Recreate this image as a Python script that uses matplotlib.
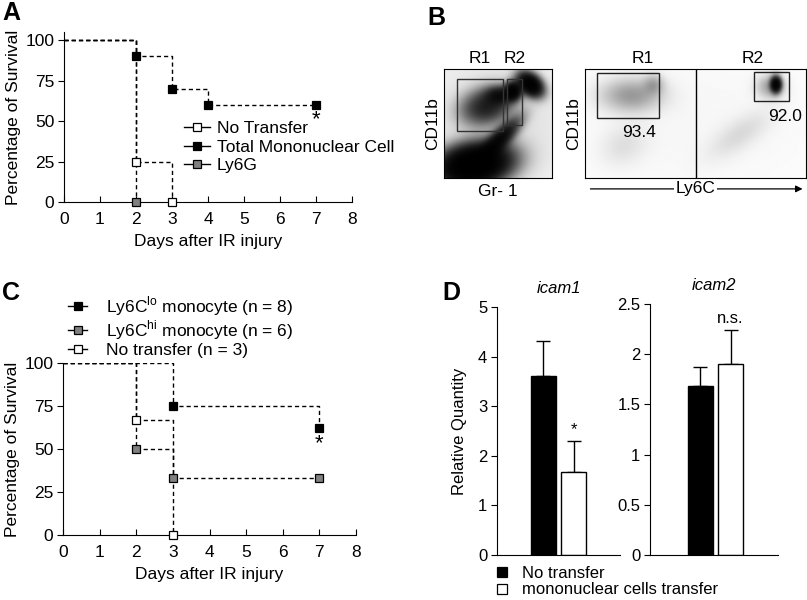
import numpy as np
import matplotlib
matplotlib.use('Agg')
import matplotlib.pyplot as plt
from matplotlib.lines import Line2D
from matplotlib.patches import Rectangle

plt.rcParams['font.family'] = ['Liberation Sans', 'DejaVu Sans']
plt.rcParams['mathtext.fontset'] = 'custom'
plt.rcParams['mathtext.rm'] = 'Liberation Sans'

# ==========================================
# data
# ==========================================
# A: survival after transfer
a_names = ['No Transfer', 'Total Mononuclear Cell', 'Ly6G']
a_days = [[0, 2, 3], [0, 2, 3, 4, 7], [0, 2]]
a_surv = [[100, 25, 0], [100, 90, 70, 60, 60], [100, 0]]
a_face = ['white', 'black', '#808080']

# C: survival, monocyte subsets
c_names = ['Ly6C$^{\\mathrm{lo}}$ monocyte (n = 8)', 'Ly6C$^{\\mathrm{hi}}$ monocyte (n = 6)',
           'No transfer (n = 3)']
c_days = [[0, 3, 7], [0, 2, 3, 7], [0, 2, 3]]
c_surv = [[100, 75, 62.5], [100, 50, 33.3, 33.3], [100, 66.7, 0]]
c_face = ['black', '#808080', 'white']

# D: relative quantity
d_genes = ['icam1', 'icam2']
d_groups = ['No transfer', 'mononuclear cells transfer']
d_mean = [[3.6, 1.68], [1.68, 1.90]]
d_err = [[0.72, 0.62], [0.19, 0.34]]
d_sig = ['*', 'n.s.']
d_ymax = [5, 2.5]
d_ticks = [[0, 1, 2, 3, 4, 5], [0, 0.5, 1, 1.5, 2, 2.5]]
d_ticklabels = [['0', '1', '2', '3', '4', '5'], ['0', '0.5', '1', '1.5', '2', '2.5']]

# B: flow populations (gaussian blobs: x, y, sx, sy, angle, weight)
b1_x = [0.28, 0.52, 0.40, 0.52, 0.64, 0.80, 0.5]
b1_y = [0.12, 0.36, 0.66, 0.76, 0.80, 0.86, 0.5]
b1_sx = [0.20, 0.15, 0.15, 0.08, 0.045, 0.055, 0.6]
b1_sy = [0.11, 0.05, 0.10, 0.05, 0.05, 0.08, 0.6]
b1_ang = [10, 45, 15, 0, 0, 50, 0]
b1_w = [3.0, 1.3, 0.9, 0.9, 1.8, 2.2, 0.06]
b1_gates = [(0.12, 0.43, 0.43, 0.48), (0.585, 0.49, 0.14, 0.42)]
b1_labels = ['R1', 'R2']

b2_x = [0.42, 0.62, 0.35, 1.73, 1.68, 1.40, 1.0]
b2_y = [0.76, 0.86, 0.30, 0.86, 0.84, 0.40, 0.5]
b2_sx = [0.18, 0.06, 0.15, 0.03, 0.08, 0.22, 1.0]
b2_sy = [0.10, 0.06, 0.12, 0.045, 0.07, 0.09, 0.6]
b2_ang = [0, 0, 30, 0, 0, 35, 0]
b2_w = [0.22, 0.15, 0.05, 1.8, 0.2, 0.06, 0.015]
b2_gates = [(0.11, 0.55, 0.56, 0.41), (1.53, 0.706, 0.316, 0.266)]
b2_labels = ['R1', 'R2']
b2_pct = ['93.4', '92.0']

W, H = 807, 600
fig = plt.figure(figsize=(W / 100, H / 100), dpi=100)


def box(l, t, r, b):
    return [l / W, 1 - b / H, (r - l) / W, (b - t) / H]


dash = (0, (3, 2.2))


def survival(ax, days, surv, face, ymax):
    for d, s in zip(days, surv):
        ax.step(d, s, where='post', color='black', lw=1, linestyle=dash, zorder=2)
    for d, s, f in zip(days, surv, face):
        ax.plot(d[1:], s[1:], 's', ms=5.5, mfc=f, mec='black', mew=0.9,
                linestyle='none', zorder=4, clip_on=False)
    ax.set_xlim(0, 8)
    ax.set_ylim(0, ymax)
    ax.set_xticks(range(9))
    ax.set_yticks([0, 25, 50, 75, 100])
    for sp in ['top', 'right']:
        ax.spines[sp].set_visible(False)
    ax.tick_params(axis='x', direction='in', length=4, labelsize=12.5, pad=7)
    ax.tick_params(axis='y', direction='out', length=4, labelsize=12.5, pad=3)
    ax.set_xlabel('Days after IR injury', fontsize=12.5, labelpad=5)
    ax.set_ylabel('Percentage of Survival', fontsize=12.5, labelpad=3)


# ---------- A ----------
axA = fig.add_axes(box(64, 32, 352, 202))
survival(axA, a_days, a_surv, a_face, 105)
axA.text(7, 51, '*', ha='center', va='center', fontsize=16)
hA = [Line2D([0], [0], color='black', lw=1, marker='s', ms=5.5, mfc=f, mec='black', mew=0.9)
      for f in a_face]
axA.legend(hA, a_names, loc='upper left', bbox_to_anchor=(184 / W, 1 - 121 / H),
           bbox_transform=fig.transFigure, frameon=False, fontsize=12.5, handlelength=1.5,
           handletextpad=0.4, labelspacing=0.2, borderpad=0, borderaxespad=0)

# ---------- C ----------
axC = fig.add_axes(box(63, 363, 356, 535))
survival(axC, c_days, c_surv, c_face, 100)
axC.text(7, 53, '*', ha='center', va='center', fontsize=16)
hC = [Line2D([0], [0], color='black', lw=1, marker='s', ms=5.5, mfc=f, mec='black', mew=0.9)
      for f in c_face]
axC.legend(hC, c_names, loc='upper left', bbox_to_anchor=(68 / W, 1 - 294 / H),
           bbox_transform=fig.transFigure, frameon=False, fontsize=12.5, handlelength=1.1,
           handletextpad=1.1, labelspacing=0.04, borderpad=0, borderaxespad=0)


# ---------- B ----------
def density(xs, ys, cx, cy, sx, sy, ang, w):
    gx, gy = np.meshgrid(xs, ys)
    d = np.zeros_like(gx)
    for x0, y0, a, b, t, k in zip(cx, cy, sx, sy, ang, w):
        th = np.deg2rad(t)
        u = (gx - x0) * np.cos(th) + (gy - y0) * np.sin(th)
        v = -(gx - x0) * np.sin(th) + (gy - y0) * np.cos(th)
        d += k * np.exp(-0.5 * ((u / a) ** 2 + (v / b) ** 2))
    return 1 - np.exp(-2.2 * d)


axB1 = fig.add_axes(box(444, 69, 552, 178))
img = density(np.linspace(0, 1, 220), np.linspace(0, 1, 220), b1_x, b1_y, b1_sx, b1_sy, b1_ang, b1_w)
axB1.imshow(img, extent=(0, 1, 0, 1), origin='lower', cmap='gray_r', vmin=0, vmax=1,
            aspect='auto', interpolation='bilinear')
for (gx, gy, gw, gh), lab in zip(b1_gates, b1_labels):
    axB1.add_patch(Rectangle((gx, gy), gw, gh, fill=False, ec='#333333', lw=1))
    axB1.text(gx + gw / 2, 1.03, lab, ha='center', va='bottom', fontsize=12.5)
axB1.set_xlim(0, 1)
axB1.set_ylim(0, 1)
axB1.set_xticks([])
axB1.set_yticks([])
axB1.set_xlabel('Gr- 1', fontsize=12.5, labelpad=4)
axB1.set_ylabel('CD11b', fontsize=12.5, labelpad=3)

axB2 = fig.add_axes(box(585, 69, 806, 178))
img2 = density(np.linspace(0, 2, 440), np.linspace(0, 1, 220), b2_x, b2_y, b2_sx, b2_sy, b2_ang, b2_w)
axB2.imshow(img2, extent=(0, 2, 0, 1), origin='lower', cmap='gray_r', vmin=0, vmax=1,
            aspect='auto', interpolation='bilinear')
axB2.axvline(1, color='black', lw=1)
for (gx, gy, gw, gh), lab, side in zip(b2_gates, b2_labels, [0, 1]):
    axB2.add_patch(Rectangle((gx, gy), gw, gh, fill=False, ec='#222222', lw=1))
    axB2.text(side + 0.52, 1.03, lab, ha='center', va='bottom', fontsize=12.5)
axB2.text(0.49, 0.42, b2_pct[0], ha='center', va='center', fontsize=12.5)
axB2.text(1.81, 0.56, b2_pct[1], ha='center', va='center', fontsize=12.5)
axB2.set_xlim(0, 2)
axB2.set_ylim(0, 1)
axB2.set_xticks([])
axB2.set_yticks([])
axB2.set_ylabel('CD11b', fontsize=12.5, labelpad=3)
axB2.annotate('', xy=(0.997, -0.10), xytext=(0.012, -0.10), xycoords='axes fraction',
              arrowprops=dict(arrowstyle='-|>', color='black', lw=0.9, mutation_scale=10))
axB2.text(0.5, -0.10, 'Ly6C', transform=axB2.transAxes, ha='center', va='center',
          fontsize=12.5, bbox=dict(fc='white', ec='none', pad=1))

# ---------- D ----------
d_boxes = [box(497, 307, 620, 555), box(650, 304, 778, 555)]
d_xlim = [(-1.86, 3.06), (-2.0, 3.12)]
pos = np.array([0, 1.22])
for i, gene in enumerate(d_genes):
    ax = fig.add_axes(d_boxes[i])
    ax.bar(pos, d_mean[i], width=1.0, color=['black', 'white'], edgecolor='black', lw=1, zorder=2)
    ax.errorbar(pos, d_mean[i], yerr=[[0, 0], d_err[i]], fmt='none', ecolor='black',
                elinewidth=1, capsize=5, capthick=1, zorder=1)
    top = d_mean[i][1] + d_err[i][1]
    ax.text(pos[1], top + d_ymax[i] * 0.015, d_sig[i], ha='center', va='bottom', fontsize=12)
    ax.set_xlim(*d_xlim[i])
    ax.set_ylim(0, d_ymax[i])
    ax.set_yticks(d_ticks[i])
    ax.set_yticklabels(d_ticklabels[i])
    ax.set_xticks([])
    for sp in ['top', 'right']:
        ax.spines[sp].set_visible(False)
    ax.tick_params(axis='y', direction='out', length=4, labelsize=12, pad=3)
    ax.set_title(gene, fontsize=12, style='italic', pad=10)
    if i == 0:
        ax.set_ylabel('Relative Quantity', fontsize=12, labelpad=8)
        hD = [Line2D([0], [0], marker='s', ms=6.5, mfc=f, mec='black', mew=0.9, linestyle='none')
              for f in ['black', 'white']]
        ax.legend(hD, d_groups, loc='upper left', bbox_to_anchor=(494 / W, 1 - 566 / H),
                  bbox_transform=fig.transFigure, frameon=False, fontsize=12,
                  handlelength=1.0, handletextpad=0.7, labelspacing=0.08, borderpad=0,
                  borderaxespad=0)

fig.text(2 / W, 1 - 1 / H, 'A', fontsize=18, fontweight='bold', va='top')
fig.text(427 / W, 1 - 6 / H, 'B', fontsize=18, fontweight='bold', va='top')
fig.text(2 / W, 1 - 281 / H, 'C', fontsize=18, fontweight='bold', va='top')
fig.text(442 / W, 1 - 281 / H, 'D', fontsize=18, fontweight='bold', va='top')

fig.savefig('out.png', dpi=100)
